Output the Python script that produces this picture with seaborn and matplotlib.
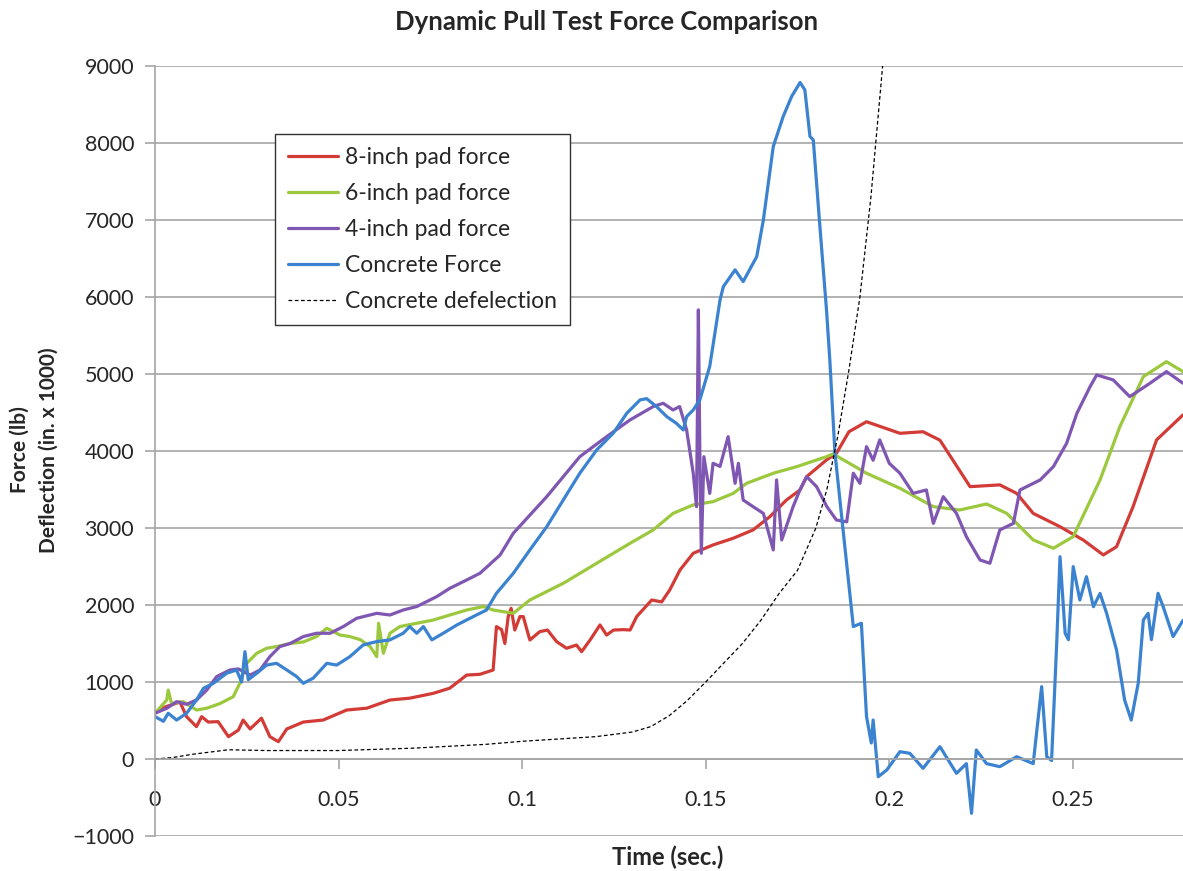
import matplotlib
matplotlib.use("Agg")
import matplotlib.pyplot as plt
import seaborn as sns
import numpy as np

# 8-inch pad force
red_x = [0.0, 0.003, 0.0068, 0.0086, 0.0113, 0.0127, 0.0145, 0.0172, 0.020, 0.0227, 0.024, 0.0259,
         0.029, 0.0313, 0.0336, 0.0359, 0.0404, 0.0458, 0.0522, 0.0577, 0.064, 0.0694, 0.0758, 0.0803,
         0.0849, 0.0885, 0.0921, 0.093, 0.0944, 0.0953, 0.0962, 0.097, 0.098, 0.0994, 0.1003, 0.1021,
         0.1048, 0.1069, 0.1094, 0.1121, 0.1148, 0.1162, 0.1185, 0.1212, 0.123, 0.1249, 0.1276, 0.1294,
         0.1312, 0.1353, 0.138, 0.1402, 0.143, 0.1466, 0.152, 0.1575, 0.1629, 0.1675, 0.172, 0.1757,
         0.1775, 0.1829, 0.1856, 0.189, 0.1938, 0.2029, 0.2092, 0.2138, 0.222, 0.2301, 0.2347, 0.2392,
         0.2465, 0.2528, 0.2583, 0.2619, 0.2664, 0.2728, 0.28]
red_y = [600, 680, 740, 550, 420, 550, 480, 485, 290, 375, 506, 390,
         530, 290, 225, 390, 480, 506, 636, 660, 766, 790, 853, 920,
         1090, 1100, 1156, 1720, 1680, 1500, 1850, 1957, 1675, 1850, 1850, 1545,
         1654, 1675, 1524, 1438, 1480, 1394, 1545, 1741, 1610, 1675, 1680, 1675,
         1850, 2065, 2040, 2195, 2455, 2672, 2780, 2867, 2975, 3148, 3364, 3494,
         3667, 3884, 3970, 4250, 4380, 4230, 4250, 4140, 3537, 3560, 3450, 3190,
         3017, 2845, 2650, 2757, 3277, 4144, 4469]

# 6-inch pad force
green_x = [0.0, 0.0032, 0.0036, 0.0045, 0.0077, 0.0113, 0.0141, 0.0177, 0.0213, 0.0231, 0.025, 0.0277,
           0.0304, 0.0331, 0.0368, 0.0404, 0.044, 0.0468, 0.0504, 0.0531, 0.0559, 0.0586, 0.0604, 0.0609,
           0.0622, 0.064, 0.0667, 0.0713, 0.0758, 0.0803, 0.0849, 0.0894, 0.0921, 0.0976, 0.1021, 0.1112,
           0.1203, 0.1294, 0.1357, 0.1411, 0.1466, 0.152, 0.1575, 0.1611, 0.1684, 0.1748, 0.1829, 0.1847,
           0.1938, 0.2029, 0.212, 0.2192, 0.2265, 0.232, 0.2392, 0.2447, 0.2501, 0.2574, 0.2628, 0.2692,
           0.2755, 0.28]
green_y = [594, 766, 896, 720, 745, 636, 660, 720, 809, 983, 1243, 1373,
           1438, 1460, 1500, 1520, 1590, 1698, 1610, 1590, 1550, 1460, 1330, 1763,
           1373, 1633, 1720, 1763, 1805, 1870, 1935, 1980, 1935, 1892, 2065, 2282,
           2542, 2802, 2975, 3190, 3300, 3342, 3450, 3580, 3711, 3797, 3926, 3962,
           3711, 3516, 3277, 3234, 3312, 3190, 2845, 2737, 2888, 3624, 4316, 4966,
           5160, 5031]

# 4-inch pad force
purple_x = [0.0, 0.0032, 0.0059, 0.0086, 0.0113, 0.0141, 0.0168, 0.0204, 0.0227, 0.0259, 0.0286, 0.0313,
            0.034, 0.0368, 0.0404, 0.044, 0.0477, 0.0513, 0.0549, 0.0604, 0.064, 0.0676, 0.0713, 0.0767,
            0.0803, 0.0849, 0.0885, 0.094, 0.0976, 0.1067, 0.1157, 0.123, 0.1294, 0.1357, 0.1384, 0.1411,
            0.1429, 0.1448, 0.1466, 0.1475, 0.1480, 0.1484, 0.1488, 0.1495, 0.1511, 0.152, 0.1539, 0.1561,
            0.158, 0.1589, 0.1602, 0.1629, 0.1657, 0.1684, 0.1693, 0.1707, 0.1738, 0.1757, 0.1775, 0.1802,
            0.183, 0.1856, 0.1884, 0.1902, 0.192, 0.1938, 0.1956, 0.1974, 0.2, 0.2029, 0.2065, 0.2101,
            0.212, 0.2147, 0.2183, 0.221, 0.2247, 0.2274, 0.2301, 0.2338, 0.2356, 0.2411, 0.2447, 0.2483,
            0.2511, 0.2547, 0.2565, 0.261, 0.2655, 0.271, 0.2755, 0.28]
purple_y = [594, 658, 745, 710, 766, 896, 1070, 1156, 1170, 1090, 1156, 1330,
            1460, 1500, 1590, 1633, 1633, 1720, 1827, 1892, 1870, 1935, 1980, 2108,
            2217, 2325, 2412, 2650, 2932, 3407, 3926, 4186, 4404, 4577, 4620, 4533,
            4577, 4273, 3711, 3277, 5832, 3980, 2672, 3926, 3450, 3840, 3800, 4186,
            3580, 3840, 3364, 3277, 3190, 2715, 3624, 2845, 3277, 3500, 3667, 3537,
            3277, 3104, 3080, 3711, 3580, 4056, 3880, 4144, 3840, 3711, 3450, 3494,
            3060, 3407, 3190, 2888, 2585, 2542, 2975, 3060, 3494, 3624, 3797, 4100,
            4490, 4836, 4988, 4923, 4706, 4880, 5031, 4880]

# Concrete force
blue_x = [0.0, 0.0023, 0.0036, 0.0059, 0.0086, 0.0113, 0.0132, 0.0159, 0.0195, 0.0222, 0.0236, 0.0245,
          0.0254, 0.0277, 0.0304, 0.0331, 0.0359, 0.0386, 0.0404, 0.0431, 0.0468, 0.0495, 0.0531, 0.0567,
          0.0604, 0.064, 0.0676, 0.0694, 0.0713, 0.0731, 0.0754, 0.0785, 0.0822, 0.0867, 0.0903, 0.093,
          0.0976, 0.1021, 0.1067, 0.1112, 0.1157, 0.1203, 0.1248, 0.1285, 0.1321, 0.1339, 0.1366, 0.1394,
          0.142, 0.1439, 0.1448, 0.1466, 0.1484, 0.1511, 0.1539, 0.1548, 0.158, 0.1602, 0.1639, 0.1657,
          0.1684, 0.1711, 0.1734, 0.1757, 0.177, 0.1784, 0.1793, 0.1811, 0.1829, 0.1838, 0.1852, 0.1875,
          0.1902, 0.1924, 0.1938, 0.1951, 0.1956, 0.197, 0.1993, 0.2029, 0.2056, 0.2092, 0.2138, 0.2183,
          0.221, 0.2224, 0.2237, 0.2265, 0.2301, 0.2347, 0.2392, 0.2415, 0.2429, 0.2442, 0.2456, 0.2465,
          0.2479, 0.2488, 0.2501, 0.2519, 0.2537, 0.2556, 0.2574, 0.2592, 0.2619, 0.2641, 0.2659, 0.2678,
          0.2692, 0.2705, 0.2714, 0.2732, 0.2746, 0.2773, 0.28]
blue_y = [550, 490, 594, 506, 594, 766, 918, 983, 1113, 1156, 1000, 1394,
          1030, 1113, 1220, 1243, 1156, 1070, 983, 1050, 1243, 1220, 1330, 1481,
          1525, 1547, 1633, 1720, 1633, 1720, 1547, 1633, 1740, 1850, 1935, 2152,
          2412, 2715, 3017, 3364, 3711, 4014, 4230, 4490, 4663, 4680, 4577, 4446,
          4360, 4273, 4446, 4533, 4663, 5100, 5962, 6135, 6352, 6200, 6525, 7000,
          7954, 8344, 8604, 8786, 8690, 8084, 8040, 6915, 5832, 5183, 3975, 2936,
          1720, 1763, 550, 208, 506, -230, -143, 95, 74, -121, 160, -186,
          -60, -705, 117, -60, -100, 30, -60, 940, 30, -20, 1500, 2627,
          1632, 1550, 2498, 2065, 2368, 1978, 2150, 1892, 1416, 766, 506, 983,
          1805, 1892, 1550, 2152, 1978, 1590, 1800]

# Concrete deflection (in. x 1000)
defl_x = [0.0, 0.005, 0.01, 0.02, 0.03, 0.05, 0.07, 0.09, 0.1, 0.11, 0.12, 0.13, 0.135, 0.14, 0.145,
          0.15, 0.155, 0.16, 0.165, 0.17, 0.175, 0.18, 0.183, 0.186, 0.189, 0.192, 0.195, 0.198, 0.2]
defl_y = [0, 20, 60, 120, 110, 110, 140, 190, 230, 260, 290, 350, 420, 560, 760,
          1000, 1250, 1500, 1800, 2150, 2450, 3000, 3500, 4200, 5050, 6000, 7300, 8900, 10000]

sns.set_theme(style="white")
plt.rcParams['font.family'] = ['Lato', 'DejaVu Sans']

fig = plt.figure(figsize=(11.83, 8.71), dpi=100)
ax = fig.add_axes([155 / 1183, 1 - 836 / 871, 1028 / 1183, 770 / 871])

lw = 2.3
sns.lineplot(x=red_x, y=red_y, ax=ax, color="#d23b36", linewidth=lw, label="8-inch pad force")
sns.lineplot(x=green_x, y=green_y, ax=ax, color="#9cc83e", linewidth=lw, label="6-inch pad force")
sns.lineplot(x=purple_x, y=purple_y, ax=ax, color="#7f56b2", linewidth=lw, label="4-inch pad force")
sns.lineplot(x=blue_x, y=blue_y, ax=ax, color="#3b83d0", linewidth=lw, label="Concrete Force")
sns.lineplot(x=defl_x, y=defl_y, ax=ax, color="black", linewidth=0.9, linestyle=(0, (3, 2)),
             label="Concrete defelection")

ax.set_xlim(0, 0.28)
ax.set_ylim(-1000, 9000)
ax.set_yticks(np.arange(-1000, 9001, 1000))
ax.set_xticks([0, 0.05, 0.1, 0.15, 0.2, 0.25])
ax.set_xticklabels(["0", "0.05", "0.1", "0.15", "0.2", "0.25"])
ax.yaxis.grid(True, color="#a6a6a6", linewidth=1.2)
ax.xaxis.grid(False)

for s in ["top", "right"]:
    ax.spines[s].set_visible(False)
ax.spines["left"].set_color("#a6a6a6")
ax.spines["bottom"].set_color("#a6a6a6")
ax.spines["bottom"].set_position(("data", 0))
ax.spines["left"].set_linewidth(1.2)
ax.spines["bottom"].set_linewidth(1.2)
ax.tick_params(axis="y", which="both", left=True, length=7, width=1.2, color="#a6a6a6",
               labelsize=15.5, pad=8)
ax.tick_params(axis="x", which="both", bottom=True, direction="out", length=7, width=1.2,
               color="#a6a6a6", labelsize=15.5, pad=15)
ax.set_xlabel("")
ax.set_ylabel("")

fig.text(607 / 1183, 1 - 22 / 871, "Dynamic Pull Test Force Comparison", ha="center", va="center",
         fontsize=18.5, fontweight="bold")
fig.text(668 / 1183, 1 - 857 / 871, "Time (sec.)", ha="center", va="center", fontsize=17,
         fontweight="bold")
fig.text(34 / 1183, 1 - 450 / 871, "Force (lb)\nDeflection (in. x 1000)", ha="center", va="center",
         rotation=90, fontsize=15, fontweight="bold", linespacing=1.6)

leg = ax.legend(loc="upper left", bbox_to_anchor=(120 / 1028, (836 - 134) / 770), fontsize=16.5,
                frameon=True, fancybox=False, framealpha=1, edgecolor="#333333", borderaxespad=0,
                handlelength=2.2, handletextpad=0.3, labelspacing=0.66, borderpad=0.55)
leg.get_frame().set_linewidth(1.0)

fig.savefig("out.png", dpi=100)
